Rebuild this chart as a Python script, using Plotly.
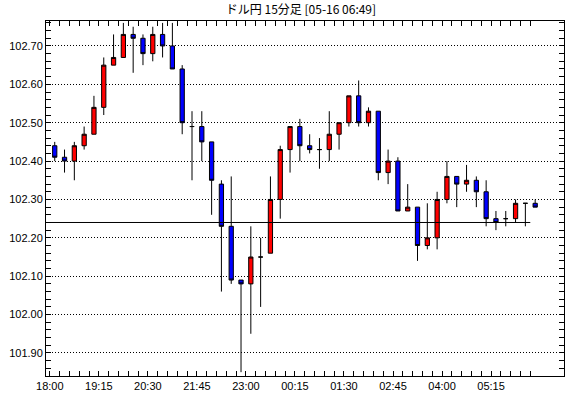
import plotly.graph_objects as go

title_text = "ドル円 15分足 [05-16 06:49]"

opens = [102.44, 102.41, 102.40, 102.44, 102.47, 102.54, 102.65, 102.67, 102.73, 102.72,
         102.68, 102.73, 102.70, 102.64, 102.49, 102.49, 102.45, 102.34, 102.23, 102.09,
         102.08, 102.15, 102.16, 102.30, 102.43, 102.49, 102.44, 102.43, 102.43, 102.47,
         102.50, 102.57, 102.50, 102.53, 102.37, 102.40, 102.27, 102.28, 102.18, 102.20,
         102.30, 102.36, 102.34, 102.35, 102.32, 102.25, 102.25, 102.25, 102.29, 102.29]
highs = [102.45, 102.43, 102.45, 102.49, 102.57, 102.67, 102.73, 102.76, 102.75, 102.73,
         102.75, 102.76, 102.76, 102.65, 102.53, 102.53, 102.45, 102.35, 102.36, 102.09,
         102.23, 102.20, 102.36, 102.44, 102.49, 102.51, 102.47, 102.46, 102.53, 102.50,
         102.57, 102.61, 102.54, 102.53, 102.43, 102.41, 102.34, 102.28, 102.29, 102.32,
         102.40, 102.36, 102.39, 102.36, 102.35, 102.27, 102.27, 102.30, 102.29, 102.30]
lows = [102.40, 102.37, 102.35, 102.43, 102.47, 102.52, 102.65, 102.67, 102.63, 102.65,
        102.66, 102.67, 102.64, 102.47, 102.35, 102.40, 102.26, 102.06, 102.08, 101.85,
        101.95, 102.02, 102.16, 102.25, 102.37, 102.40, 102.42, 102.38, 102.40, 102.43,
        102.49, 102.49, 102.49, 102.35, 102.34, 102.27, 102.27, 102.14, 102.17, 102.17,
        102.29, 102.28, 102.32, 102.28, 102.23, 102.22, 102.23, 102.24, 102.23, 102.28]
closes = [102.41, 102.40, 102.44, 102.47, 102.54, 102.65, 102.67, 102.73, 102.72, 102.68,
          102.73, 102.70, 102.64, 102.50, 102.49, 102.45, 102.35, 102.23, 102.09, 102.08,
          102.15, 102.15, 102.30, 102.43, 102.49, 102.44, 102.43, 102.43, 102.47, 102.50,
          102.57, 102.50, 102.53, 102.37, 102.40, 102.27, 102.28, 102.18, 102.20, 102.30,
          102.36, 102.34, 102.35, 102.32, 102.25, 102.24, 102.25, 102.29, 102.29, 102.28]

ref_level = 102.24

tick_labels = ["18:00", "19:15", "20:30", "21:45", "23:00",
               "00:15", "01:30", "02:45", "04:00", "05:15"]
y_ticks = [101.90, 102.00, 102.10, 102.20, 102.30, 102.40, 102.50, 102.60, 102.70]

n = len(opens)
xs = list(range(n))

# tick marks at candle boundaries, labels every 5 candles
tickvals = [i - 0.5 for i in range(n)]
ticktext = [tick_labels[i // 5] if i % 5 == 0 and i // 5 < len(tick_labels) else "" for i in range(n)]

fig = go.Figure()
fig.add_trace(go.Candlestick(
    x=xs, open=opens, high=highs, low=lows, close=closes,
    increasing=dict(fillcolor="#FF0000", line=dict(color="#000000", width=1)),
    decreasing=dict(fillcolor="#0000FF", line=dict(color="#000000", width=1)),
    whiskerwidth=0,
    showlegend=False,
    hoverinfo="skip",
))

fig.add_shape(type="line", xref="x", yref="y",
              x0=-0.5, x1=n - 1.5, y0=ref_level, y1=ref_level,
              line=dict(color="#000000", width=1))

fig.update_layout(
    width=570, height=398,
    margin=dict(l=46, r=6, t=21, b=22),
    paper_bgcolor="#FFFFFF", plot_bgcolor="#FFFFFF",
    title=dict(text=title_text, x=0.528, xanchor="center", y=0.976, yanchor="middle",
               yref="container",
               font=dict(family="Noto Sans CJK JP", size=12, color="#000000")),
    font=dict(family="Liberation Sans", size=11, color="#000000"),
    boxgap=0.38,
    showlegend=False,
    hovermode=False,
)

fig.update_xaxes(
    range=[-0.89, n + 1.94 - 0.0],
    tickmode="array", tickvals=tickvals, ticktext=ticktext,
    ticks="inside", ticklen=5, tickcolor="#000000", tickwidth=1,
    showline=True, linecolor="#000000", linewidth=1, mirror="ticks",
    showgrid=False, zeroline=False,
    rangeslider=dict(visible=False),
    tickfont=dict(family="Liberation Sans", size=11, color="#000000"),
)

fig.update_yaxes(
    range=[101.84, 102.765],
    tickmode="array", tickvals=y_ticks, ticktext=[f"{v:.2f}" for v in y_ticks],
    ticks="inside", ticklen=5, tickcolor="#000000", tickwidth=1,
    minor=dict(dtick=0.02, tick0=101.90, ticks="inside", ticklen=5, tickcolor="#000000", showgrid=False),
    showline=True, linecolor="#000000", linewidth=1, mirror="ticks",
    showgrid=True, gridcolor="#000000", gridwidth=1, griddash="1px,2px",
    zeroline=False,
    tickfont=dict(family="Liberation Sans", size=11, color="#000000"),
)

fig.write_html("out.html", config={"displayModeBar": False},
               post_script="document.body.style.margin='0';")
